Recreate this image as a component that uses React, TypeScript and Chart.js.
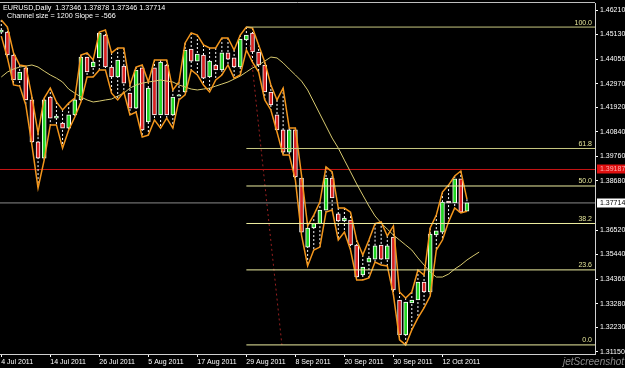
import React, { useEffect, useRef } from 'react';
import { Chart, registerables } from 'chart.js';
Chart.register(...registerables);

// ---- data (EURUSD daily, 4 Jul 2011 .. 18 Oct 2011) ----
const opens = [1.4524,1.4524,1.4423,1.4313,1.4366,1.4225,1.4040,1.3969,1.4238,1.4145,1.4123,1.4101,1.4159,1.4225,1.4414,1.4370,1.4410,1.4511,1.4370,1.4326,1.4374,1.4255,1.4189,1.4366,1.4128,1.4366,1.4159,1.4379,1.4159,1.4242,1.4260,1.4449,1.4396,1.4423,1.4326,1.4379,1.4357,1.4432,1.4410,1.4370,1.4489,1.4520,1.4436,1.4379,1.4260,1.4159,1.4093,1.3995,1.4093,1.3881,1.3577,1.3661,1.3680,1.3740,1.3881,1.3723,1.3692,1.3696,1.3586,1.3454,1.3511,1.3524,1.3586,1.3524,1.3621,1.3344,1.3190,1.3331,1.3344,1.3423,1.3379,1.3630,1.3643,1.3780,1.3771,1.3877,1.37346];
const highs = [1.4577,1.4546,1.4432,1.4379,1.4374,1.4238,1.4079,1.4233,1.4277,1.4216,1.4181,1.4211,1.4233,1.4423,1.4432,1.4401,1.4524,1.4533,1.4432,1.4454,1.4454,1.4291,1.4370,1.4379,1.4304,1.4401,1.4401,1.4401,1.4269,1.4304,1.4476,1.4520,1.4511,1.4467,1.4454,1.4454,1.4498,1.4498,1.4445,1.4511,1.4546,1.4542,1.4467,1.4392,1.4291,1.4225,1.4277,1.4101,1.4101,1.3894,1.3670,1.3718,1.3775,1.3930,1.3908,1.3749,1.3749,1.3731,1.3608,1.3542,1.3608,1.3680,1.3688,1.3626,1.3670,1.3379,1.3353,1.3379,1.3476,1.3454,1.3661,1.3718,1.3819,1.3850,1.3890,1.3912,1.37878];
const lows = [1.4506,1.4410,1.4291,1.4286,1.4203,1.4026,1.3837,1.3960,1.4115,1.4115,1.4013,1.4093,1.4150,1.4216,1.4326,1.4326,1.4357,1.4357,1.4255,1.4225,1.4260,1.4159,1.4172,1.4062,1.4070,1.4137,1.4101,1.4145,1.4101,1.4225,1.4247,1.4357,1.4335,1.4291,1.4260,1.4313,1.4335,1.4379,1.4321,1.4335,1.4445,1.4392,1.4348,1.4225,1.4181,1.4084,1.3982,1.3982,1.3872,1.3630,1.3494,1.3564,1.3577,1.3731,1.3740,1.3608,1.3643,1.3564,1.3432,1.3432,1.3441,1.3511,1.3498,1.3494,1.3366,1.3168,1.3146,1.3212,1.3265,1.3309,1.3361,1.3564,1.3608,1.3688,1.3749,1.3727,1.37346];
const closes = [1.4533,1.4423,1.4313,1.4348,1.4225,1.4040,1.3969,1.4225,1.4145,1.4154,1.4101,1.4159,1.4225,1.4414,1.4348,1.4392,1.4520,1.4370,1.4326,1.4401,1.4299,1.4189,1.4357,1.4093,1.4277,1.4159,1.4392,1.4159,1.4238,1.4247,1.4445,1.4396,1.4427,1.4321,1.4396,1.4357,1.4432,1.4405,1.4370,1.4493,1.4511,1.4436,1.4379,1.4260,1.4203,1.4093,1.3995,1.4093,1.3886,1.3643,1.3661,1.3680,1.3740,1.3881,1.3793,1.3692,1.3705,1.3586,1.3445,1.3489,1.3529,1.3582,1.3524,1.3582,1.3388,1.3190,1.3335,1.3344,1.3423,1.3379,1.3634,1.3648,1.3775,1.3771,1.3877,1.3731,1.37714];
const maValues = [1.4326,1.4348,1.4361,1.4370,1.4374,1.4379,1.4370,1.4352,1.4335,1.4321,1.4304,1.4273,1.4255,1.4238,1.4225,1.4216,1.4220,1.4225,1.4229,1.4242,1.4255,1.4277,1.4291,1.4299,1.4304,1.4308,1.4313,1.4308,1.4304,1.4291,1.4282,1.4273,1.4269,1.4273,1.4277,1.4286,1.4295,1.4304,1.4317,1.4330,1.4348,1.4366,1.4379,1.4396,1.4414,1.4410,1.4388,1.4361,1.4335,1.4308,1.4269,1.4216,1.4163,1.4110,1.4057,1.4013,1.3960,1.3908,1.3855,1.3806,1.3758,1.3714,1.3683,1.3656,1.3630,1.3608,1.3586,1.3564,1.3529,1.3498,1.3467,1.3445,1.3445,1.3458,1.3480,1.3498,1.3520,1.3538,1.3555];

const tickIndex = [0, 8, 16, 24, 32, 40, 48, 56, 64, 72];
const tickLabels = ['4 Jul 2011','14 Jul 2011','26 Jul 2011','5 Aug 2011','17 Aug 2011','29 Aug 2011','8 Sep 2011','20 Sep 2011','30 Sep 2011','12 Oct 2011'];
const priceTicks = [1.4621,1.4513,1.4405,1.4297,1.4192,1.4084,1.3976,1.3868,1.3652,1.3544,1.3436,1.3328,1.3223,1.3115];

const fibLevels = [100, 61.8, 50, 38.2, 23.6, 0];
const fibHigh = 1.4546;
const fibLow = 1.3146;
const fibStart = 40;
const redLevel = 1.39187;
const bidLevel = 1.37714;
const slopeX = [40.6, 45.8];
const slopeY = [1.4467, 1.3146];

const X_MIN = -0.21;
const X_MAX = 96.9;
const Y_MIN = 1.3106;
const Y_MAX = 1.4652;

const FONT = '"Liberation Sans", Arial, sans-serif';

const overlayPlugin = {
  id: 'overlay',
  afterDraw(chart: any) {
    const { ctx, chartArea, scales } = chart;
    const y = scales.y;
    ctx.save();
    // top frame line
    ctx.strokeStyle = '#BEBEBE';
    ctx.lineWidth = 1;
    ctx.beginPath();
    ctx.moveTo(0, 2.5);
    ctx.lineTo(chartArea.right, 2.5);
    ctx.stroke();

    ctx.font = `7.2px ${FONT}`;
    ctx.fillStyle = '#ffffff';
    ctx.textAlign = 'left';
    ctx.textBaseline = 'middle';
    ctx.fillText('EURUSD,Daily  1.37346 1.37878 1.37346 1.37714', 3, 8);
    ctx.fillText('Channel size = 1200 Slope = -566', 7, 16);

    // fibo labels
    ctx.font = `7px ${FONT}`;
    ctx.textAlign = 'right';
    ctx.textBaseline = 'bottom';
    ctx.fillStyle = '#E6E69A';
    fibLevels.forEach((l) => {
      const p = fibLow + (fibHigh - fibLow) * l / 100;
      ctx.fillText(l.toFixed(1), chartArea.right - 3, y.getPixelForValue(p) - 1);
    });

    // price boxes on the axis
    const boxes = [
      { v: redLevel, bg: '#E01010', fg: '#FFB0B0' },
      { v: bidLevel, bg: '#FFFFFF', fg: '#000000' },
    ];
    ctx.textAlign = 'left';
    ctx.textBaseline = 'middle';
    boxes.forEach((b) => {
      const py = Math.round(y.getPixelForValue(b.v));
      ctx.fillStyle = b.bg;
      ctx.fillRect(chartArea.right + 2, py - 4.5, 28, 9);
      ctx.fillStyle = b.fg;
      ctx.fillText(b.v.toFixed(5), chartArea.right + 5, py);
    });

    // watermark
    ctx.font = `italic 10px ${FONT}`;
    ctx.fillStyle = '#8c8c8c';
    ctx.fillText('jetScreenshot', 563, 362);
    ctx.restore();
  },
};

export default function App() {
  const ref = useRef<HTMLCanvasElement | null>(null);
  useEffect(() => {
    if (!ref.current) return;
    const idx = opens.map((_, i) => i);
    const up = idx.map((i) => closes[i] >= opens[i]);
    const wick: any[] = [];
    idx.forEach((i) => {
      wick.push({ x: i, y: highs[i] }, { x: i, y: lows[i] }, { x: i, y: null });
    });
    const fibSets = fibLevels.map((l) => {
      const p = fibLow + (fibHigh - fibLow) * l / 100;
      return {
        type: 'line', order: 1, data: [{ x: fibStart, y: p }, { x: X_MAX, y: p }],
        borderColor: l >= 60 ? '#C8C882' : '#EEEEA0', borderWidth: 1, pointRadius: 0,
      };
    });
    const chart = new Chart(ref.current, {
      data: {
        datasets: [
          ...fibSets,
          { type: 'line', order: 2, data: idx.map((i) => ({ x: i, y: highs[i] })), borderColor: '#F3961C', borderWidth: 1.5, pointRadius: 0, tension: 0 },
          { type: 'line', order: 2, data: idx.map((i) => ({ x: i, y: lows[i] })), borderColor: '#F3961C', borderWidth: 1.5, pointRadius: 0, tension: 0 },
          { type: 'line', order: 3, data: maValues.map((v, i) => ({ x: i, y: v })), borderColor: '#D8CA70', borderWidth: 1, pointRadius: 0, tension: 0 },
          { type: 'line', order: 4, data: [{ x: slopeX[0], y: slopeY[0] }, { x: slopeX[1], y: slopeY[1] }], borderColor: '#9A2020', borderWidth: 1, borderDash: [2, 3], pointRadius: 0 },
          { type: 'bar', order: 5, data: idx.map((i) => ({ x: i, y: [opens[i], closes[i]] })), backgroundColor: up.map((u) => (u ? '#22D622' : '#D82020')), borderColor: '#FFFFFF', borderWidth: 1, borderSkipped: false, barThickness: 4, grouped: false },
          { type: 'line', order: 6, data: wick, borderColor: '#FFFFFF', borderWidth: 1, borderDash: [2, 2], pointRadius: 0, spanGaps: false },
          { type: 'line', order: 7, data: [{ x: X_MIN, y: redLevel }, { x: X_MAX, y: redLevel }], borderColor: '#C81414', borderWidth: 1, pointRadius: 0 },
          { type: 'line', order: 7, data: [{ x: X_MIN, y: bidLevel }, { x: X_MAX, y: bidLevel }], borderColor: '#8A8A8A', borderWidth: 1, pointRadius: 0 },
        ] as any,
      },
      options: {
        animation: false,
        responsive: false,
        events: [],
        layout: { padding: { left: 0, top: 3, right: 0, bottom: 0 } },
        plugins: { legend: { display: false }, tooltip: { enabled: false } },
        scales: {
          x: {
            type: 'linear', min: X_MIN, max: X_MAX, offset: false,
            afterBuildTicks: (s: any) => { s.ticks = tickIndex.map((v) => ({ value: v })); },
            afterFit: (s: any) => { s.height = 14; s.paddingLeft = 0; s.paddingRight = 0; },
            ticks: {
              autoSkip: false, maxRotation: 0, align: 'start', color: '#FFFFFF', padding: 1,
              font: { size: 7, family: FONT },
              callback: (_v: any, i: number) => tickLabels[i],
            },
            grid: { drawOnChartArea: false, offset: false, color: '#FFFFFF', tickLength: 3 },
            border: { color: '#D0D0D0', width: 1 },
          },
          y: {
            type: 'linear', position: 'right', min: Y_MIN, max: Y_MAX,
            afterBuildTicks: (s: any) => { s.ticks = priceTicks.map((v) => ({ value: v })); },
            afterFit: (s: any) => { s.width = 30; s.paddingTop = 0; s.paddingBottom = 0; },
            ticks: {
              color: '#FFFFFF', padding: 2, font: { size: 7, family: FONT },
              callback: (v: any) => Number(v).toFixed(5),
            },
            grid: { drawOnChartArea: false, color: '#FFFFFF', tickLength: 3 },
            border: { color: '#D0D0D0', width: 1 },
          },
        },
      } as any,
      plugins: [overlayPlugin],
    });
    return () => chart.destroy();
  }, []);
  return (
    <div style={{ position: 'fixed', left: 0, top: 0, width: 625, height: 368, background: '#000' }}>
      <canvas ref={ref} width={625} height={368} style={{ display: 'block' }} />
    </div>
  );
}
